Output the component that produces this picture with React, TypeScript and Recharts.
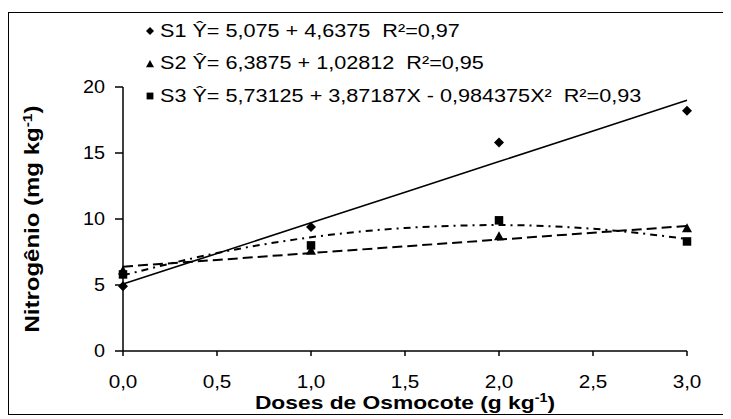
import React from "react"
import { ComposedChart, Line, Scatter, XAxis, YAxis, Label } from "recharts"

// observed values (doses in g kg-1)
const doses = [0, 1, 2, 3]
const s1Obs = [4.9, 9.4, 15.8, 18.2]
const s2Obs = [6.1, 7.6, 8.7, 9.3]
const s3Obs = [5.8, 8.0, 9.9, 8.3]

// fitted curves read at these doses
const fitDoses = [0, 0.5, 1, 1.5, 2, 2.5, 3]
const s1Fit = [5.08, 7.39, 9.71, 12.03, 14.35, 16.67, 18.99]
const s2Fit = [6.39, 6.9, 7.42, 7.93, 8.44, 8.96, 9.47]
const s3Fit = [5.73, 7.42, 8.62, 9.32, 9.54, 9.26, 8.49]

const xTicks = [0, 0.5, 1, 1.5, 2, 2.5, 3]
const yTicks = [0, 5, 10, 15, 20]

const seriesNames = ["S1", "S2", "S3"]
const equations = [
  "Ŷ= 5,075 + 4,6375  R²=0,97",
  "Ŷ= 6,3875 + 1,02812  R²=0,95",
  "Ŷ= 5,73125 + 3,87187X - 0,984375X²  R²=0,93",
]
const markerKinds = ["diamond", "triangle", "square"]

const toRows = (xs: number[], ys: number[]) => xs.map((x, i) => ({ x, y: ys[i] }))

const font = "'Liberation Sans', Arial, sans-serif"

function Marker({ kind, cx, cy, r }: { kind: string; cx: number; cy: number; r: number }) {
  if (kind === "diamond")
    return <polygon points={`${cx},${cy - r} ${cx + r},${cy} ${cx},${cy + r} ${cx - r},${cy}`} fill="#000" />
  if (kind === "triangle")
    return <polygon points={`${cx},${cy - r} ${cx + r},${cy + r * 0.8} ${cx - r},${cy + r * 0.8}`} fill="#000" />
  return <rect x={cx - r * 0.85} y={cy - r * 0.85} width={r * 1.7} height={r * 1.7} fill="#000" />
}

const XTick = (p: any) => (
  <g transform={`translate(${p.x},${p.y}) scale(1.15,1)`}>
    <text x={0} y={0} dy="0.71em" textAnchor="middle" fontSize={18} fontFamily={font} fill="#000">
      {p.payload.value.toFixed(1).replace(".", ",")}
    </text>
  </g>
)

const YTick = (p: any) => (
  <g transform={`translate(${p.x},${p.y}) scale(1.1,1)`}>
    <text x={0} y={0} dy="0.355em" textAnchor="end" fontSize={18} fontFamily={font} fill="#000">
      {p.payload.value}
    </text>
  </g>
)

export default function App() {
  return (
    <div style={{ paddingTop: 4 }}>
      <div style={{ position: "relative", width: 716, height: 401, border: "1px solid #000", fontFamily: font }}>
        <ComposedChart width={716} height={408} margin={{ top: 74, right: 38, bottom: 0, left: 0 }} style={{ overflow: "visible" }}>
          <XAxis
            type="number"
            dataKey="x"
            domain={[0, 3]}
            ticks={xTicks}
            tick={XTick}
            stroke="#000"
            strokeWidth={1.5}
            tickSize={5}
            tickMargin={19}
            height={70}
          >
            <Label
              content={() => (
                <g transform="translate(396,396) scale(1.2,1)">
                  <text x={0} y={0} textAnchor="middle" fontSize={19} fontWeight="bold" fontFamily={font} fill="#000">
                    Doses de Osmocote (g kg<tspan dy={-7} fontSize={12}>-1</tspan>
                    <tspan dy={7}>)</tspan>
                  </text>
                </g>
              )}
            />
          </XAxis>
          <YAxis
            type="number"
            dataKey="y"
            domain={[0, 20]}
            ticks={yTicks}
            tick={YTick}
            stroke="#000"
            strokeWidth={1.5}
            tickSize={8}
            tickMargin={10}
            width={114}
          >
            <Label
              content={() => (
                <g transform="translate(30,206) rotate(-90) scale(1.2,1)">
                  <text x={0} y={0} textAnchor="middle" fontSize={20} fontWeight="bold" fontFamily={font} fill="#000">
                    Nitrogênio (mg kg<tspan dy={-7} fontSize={13}>-1</tspan>
                    <tspan dy={7}>)</tspan>
                  </text>
                </g>
              )}
            />
          </YAxis>

          <Line data={toRows(fitDoses, s1Fit)} dataKey="y" type="linear" stroke="#000" strokeWidth={1.6} dot={false} isAnimationActive={false} />
          <Line data={toRows(fitDoses, s2Fit)} dataKey="y" type="linear" stroke="#000" strokeWidth={2} strokeDasharray="10 5" dot={false} isAnimationActive={false} />
          <Line data={toRows(fitDoses, s3Fit)} dataKey="y" type="monotone" stroke="#000" strokeWidth={2} strokeDasharray="7 5 2 5" dot={false} isAnimationActive={false} />

          <Scatter data={toRows(doses, s1Obs)} isAnimationActive={false} shape={(p: any) => <Marker kind="diamond" cx={p.cx} cy={p.cy} r={5} />} />
          <Scatter data={toRows(doses, s2Obs)} isAnimationActive={false} shape={(p: any) => <Marker kind="triangle" cx={p.cx} cy={p.cy} r={5} />} />
          <Scatter data={toRows(doses, s3Obs)} isAnimationActive={false} shape={(p: any) => <Marker kind="square" cx={p.cx} cy={p.cy} r={5} />} />
        </ComposedChart>

        {seriesNames.map((name, i) => (
          <div
            key={name}
            style={{ position: "absolute", left: 134, top: 2 + i * 32.5, height: 32, display: "flex", alignItems: "center", whiteSpace: "pre", fontSize: 17.5, color: "#000" }}
          >
            <svg width={14} height={14} style={{ marginRight: 3 }}>
              <Marker kind={markerKinds[i]} cx={7} cy={7} r={4} />
            </svg>
            <span style={{ display: "inline-block", transform: "scaleX(1.235)", transformOrigin: "left center" }}>
              {name} {equations[i]}
            </span>
          </div>
        ))}
      </div>
    </div>
  )
}
